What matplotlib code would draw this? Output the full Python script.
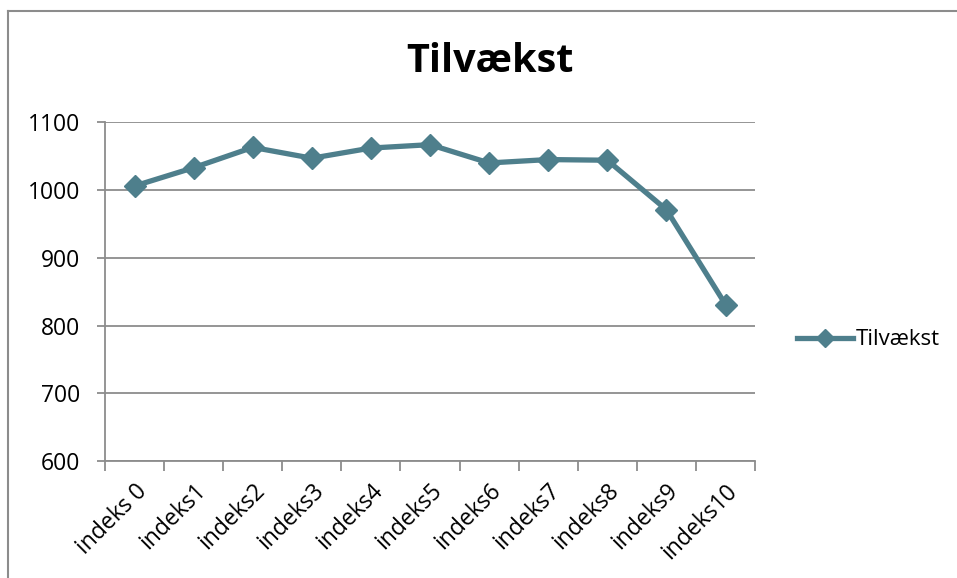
import matplotlib.pyplot as plt
from matplotlib.lines import Line2D

categories = ['indeks 0', 'indeks1', 'indeks2', 'indeks3', 'indeks4', 'indeks5',
              'indeks6', 'indeks7', 'indeks8', 'indeks9', 'indeks10']
tilvaekst = [1006, 1033, 1063, 1047, 1062, 1067, 1040, 1045, 1044, 971, 831]
y_ticks = [600, 700, 800, 900, 1000, 1100]

color = '#4e7f8c'
grid_color = '#8c8c8c'
plt.rcParams['font.family'] = ['Open Sans', 'DejaVu Sans']

fig = plt.figure(figsize=(9.57, 5.78), dpi=100)
ax = fig.add_axes([0.1097, 0.2024, 0.789 - 0.1097, 0.7884 - 0.2024])

x = list(range(len(categories)))
ax.plot(x, tilvaekst, color=color, linewidth=3.8, marker='D', markersize=11,
        label='Tilvækst', zorder=3)

ax.set_xlim(-0.5, len(categories) - 0.5)
ax.set_ylim(600, 1100)
ax.set_yticks(y_ticks)
ax.set_yticklabels([str(v) for v in y_ticks], fontsize=16.5)
ax.yaxis.grid(True, color=grid_color, linewidth=1.3)
ax.set_axisbelow(True)

# Excel style: ticks between categories, labels at centers
ax.set_xticks([i - 0.5 for i in range(len(categories) + 1)])
ax.set_xticklabels([])
ax.set_xticks(x, minor=True)
ax.set_xticklabels(categories, minor=True, rotation=45, ha='right',
                   rotation_mode='anchor', fontsize=16.5)
ax.tick_params(axis='x', which='minor', length=0, pad=13)
ax.tick_params(axis='x', which='major', length=7, color=grid_color, width=1.3)
ax.tick_params(axis='y', length=6, color=grid_color, width=1.3, pad=12)

for s in ['top', 'right']:
    ax.spines[s].set_visible(False)
for s in ['left', 'bottom']:
    ax.spines[s].set_color(grid_color)
    ax.spines[s].set_linewidth(1.3)

fig.text(0.512, 0.893, 'Tilvækst', ha='center', va='center', fontsize=28.5,
         fontweight='bold')

fig.legend(handles=[Line2D([0], [0], color=color, linewidth=3.8, marker='D',
                           markersize=9, label='Tilvækst')],
           loc='center left', bbox_to_anchor=(0.812, 0.412), frameon=False,
           fontsize=16, handlelength=2.5, handletextpad=0.15)

# outer chart frame
fig.add_artist(Line2D([0.0085, 1.0], [1 - 10.5 / 578, 1 - 10.5 / 578],
                      color=grid_color, linewidth=1.5, transform=fig.transFigure))
fig.add_artist(Line2D([0.0085, 0.0085], [0.0, 1 - 10.5 / 578],
                      color=grid_color, linewidth=1.5, transform=fig.transFigure))

fig.savefig('out.png', dpi=100)
